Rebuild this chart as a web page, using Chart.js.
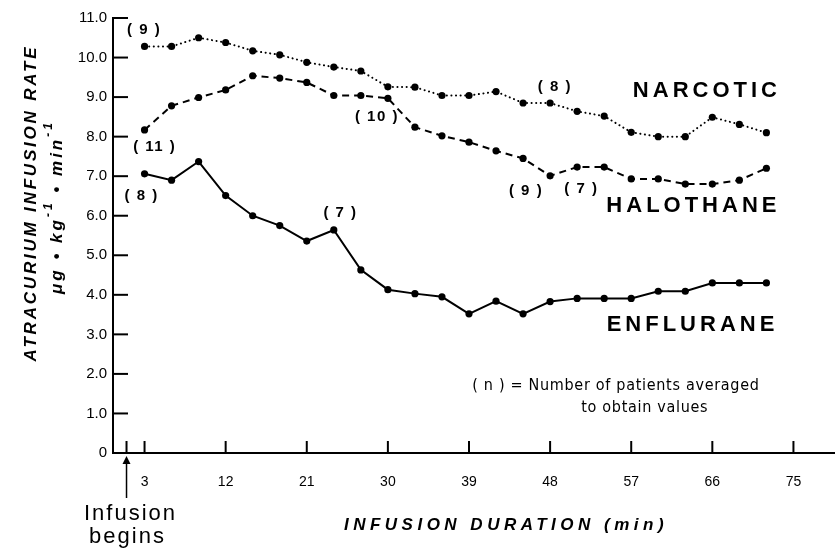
<!DOCTYPE html>
<html>
<head>
<meta charset="utf-8">
<script src="https://cdn.jsdelivr.net/npm/chart.js@4.4.1/dist/chart.umd.min.js"></script>
<style>
  html, body { margin: 0; padding: 0; background: #fff; }
  #wrap { width: 838px; height: 552px; position: relative; }
</style>
</head>
<body>
<div id="wrap"><canvas id="chart" width="838" height="552"></canvas></div>
<script>
// infusion time points (min)
const minutes = [3, 6, 9, 12, 15, 18, 21, 24, 27, 30, 33, 36, 39, 42, 45, 48, 51, 54, 57, 60, 63, 66, 69, 72];

const narcotic = [10.28, 10.28, 10.5, 10.38, 10.17, 10.07, 9.88, 9.76, 9.66, 9.26, 9.25, 9.04,
                  9.04, 9.14, 8.85, 8.85, 8.64, 8.52, 8.11, 8.0, 8.0, 8.49, 8.31, 8.1];
const halothane = [8.17, 8.78, 8.99, 9.18, 9.54, 9.48, 9.37, 9.04, 9.04, 8.97, 8.24, 8.02,
                   7.86, 7.64, 7.45, 7.01, 7.23, 7.23, 6.93, 6.93, 6.8, 6.8, 6.9, 7.2];
const enflurane = [7.06, 6.9, 7.37, 6.51, 6.0, 5.75, 5.36, 5.64, 4.63, 4.13, 4.03, 3.95,
                   3.52, 3.84, 3.52, 3.83, 3.91, 3.91, 3.91, 4.09, 4.09, 4.3, 4.3, 4.3];

const xTickLabels = [3, 12, 21, 30, 39, 48, 57, 66, 75];
const xTickMarks = [1, 3, 12, 21, 30, 39, 48, 57, 66, 75];
const yTickValues = [0, 1, 2, 3, 4, 5, 6, 7, 8, 9, 10, 11];
const infusionStart = 1;

// (n) annotations: [x, y, text]
const patientCounts = [
    [2.95, 10.69, '( 9 )'],
    [4.13, 7.74, '( 11 )'],
    [2.67, 6.51, '( 8 )'],
    [24.74, 6.08, '( 7 )'],
    [28.78, 8.5, '( 10 )'],
    [48.53, 9.27, '( 8 )'],
    [45.33, 6.64, '( 9 )'],
    [51.47, 6.68, '( 7 )']
];
const seriesNames = [
    [65.4, 9.16, 'NARCOTIC'],
    [63.9, 6.25, 'HALOTHANE'],
    [63.8, 3.24, 'ENFLURANE']
];
const noteLines = [
    [55.3, 1.70, '( n ) = Number of patients averaged'],
    [58.5, 1.15, 'to obtain values']
];

function toPoints(values) {
    return minutes.map((m, i) => ({ x: m, y: values[i] }));
}

function lineSet(label, values, dash, cap) {
    return {
        label: label,
        data: toPoints(values),
        borderColor: '#000',
        backgroundColor: '#000',
        borderWidth: 2,
        borderDash: dash,
        borderCapStyle: cap,
        pointRadius: 3.6,
        pointBorderWidth: 0,
        pointBackgroundColor: '#000',
        tension: 0
    };
}

const overlay = {
    id: 'overlay',
    afterDraw(chart) {
        const ctx = chart.ctx;
        const x = chart.scales.x;
        const y = chart.scales.y;
        const left = chart.chartArea.left;
        const bottom = chart.chartArea.bottom;
        ctx.save();
        ctx.strokeStyle = '#000';
        ctx.fillStyle = '#000';
        ctx.lineWidth = 2;

        // y ticks drawn inward
        yTickValues.slice(1).forEach(v => {
            const py = y.getPixelForValue(v);
            ctx.beginPath();
            ctx.moveTo(left, py);
            ctx.lineTo(left + 15, py);
            ctx.stroke();
        });
        // x ticks drawn upward
        xTickMarks.forEach(v => {
            const px = x.getPixelForValue(v);
            ctx.beginPath();
            ctx.moveTo(px, bottom);
            ctx.lineTo(px, bottom - 12);
            ctx.stroke();
        });

        // arrow at start of infusion
        const ax = x.getPixelForValue(infusionStart);
        ctx.lineWidth = 1.5;
        ctx.beginPath();
        ctx.moveTo(ax, bottom + 9);
        ctx.lineTo(ax, bottom + 45);
        ctx.stroke();
        ctx.beginPath();
        ctx.moveTo(ax, bottom + 3);
        ctx.lineTo(ax - 4, bottom + 11);
        ctx.lineTo(ax + 4, bottom + 11);
        ctx.closePath();
        ctx.fill();

        ctx.textAlign = 'center';
        ctx.textBaseline = 'middle';

        ctx.font = '22px "Liberation Sans", sans-serif';
        ctx.letterSpacing = '2px';
        ctx.fillText('Infusion', ax + 4, bottom + 61);
        ctx.fillText('begins', ax + 1, bottom + 84);

        ctx.font = 'bold 15px "Liberation Sans", sans-serif';
        ctx.letterSpacing = '1.5px';
        patientCounts.forEach(a => {
            ctx.fillText(a[2], x.getPixelForValue(a[0]), y.getPixelForValue(a[1]));
        });

        ctx.font = 'bold 22px "Liberation Sans", sans-serif';
        ctx.letterSpacing = '4px';
        seriesNames.forEach(a => {
            ctx.fillText(a[2], x.getPixelForValue(a[0]), y.getPixelForValue(a[1]));
        });

        ctx.font = '16px "Liberation Sans Narrow", "DejaVu Sans Condensed", sans-serif';
        ctx.letterSpacing = '0.7px';
        noteLines.forEach(a => {
            ctx.fillText(a[2], x.getPixelForValue(a[0]), y.getPixelForValue(a[1]));
        });

        // axis titles
        ctx.font = 'italic bold 17px "Liberation Sans", sans-serif';
        ctx.letterSpacing = '4.5px';
        ctx.fillText('INFUSION DURATION (min)', 506, 525);

        ctx.letterSpacing = '2.8px';
        ctx.save();
        ctx.translate(31, 203);
        ctx.rotate(-Math.PI / 2);
        ctx.fillText('ATRACURIUM INFUSION RATE', 0, 0);
        ctx.restore();

        // second line with superscripts
        ctx.save();
        ctx.translate(57, 207);
        ctx.rotate(-Math.PI / 2);
        const parts = [['\u03BCg \u2022 kg', false], ['-1', true], [' \u2022 min', false], ['-1', true]];
        const big = 'italic bold 17px "Liberation Sans", sans-serif';
        const small = 'italic bold 12px "Liberation Sans", sans-serif';
        ctx.letterSpacing = '3px';
        let total = 0;
        parts.forEach(p => { ctx.font = p[1] ? small : big; total += ctx.measureText(p[0]).width; });
        let cx = -total / 2;
        ctx.textAlign = 'left';
        parts.forEach(p => {
            ctx.font = p[1] ? small : big;
            ctx.fillText(p[0], cx, p[1] ? -8 : 0);
            cx += ctx.measureText(p[0]).width;
        });
        ctx.restore();

        ctx.restore();
    }
};

new Chart(document.getElementById('chart'), {
    type: 'line',
    data: {
        datasets: [
            lineSet('Narcotic', narcotic, [0.1, 4.5], 'round'),
            lineSet('Halothane', halothane, [7, 5], 'butt'),
            lineSet('Enflurane', enflurane, [], 'butt')
        ]
    },
    options: {
        responsive: false,
        animation: false,
        layout: { padding: { top: 18, right: 0, left: 0, bottom: 0 } },
        plugins: { legend: { display: false }, tooltip: { enabled: false } },
        scales: {
            x: {
                type: 'linear',
                min: -0.5,
                max: 79.5,
                afterBuildTicks: scale => { scale.ticks = xTickLabels.map(v => ({ value: v })); },
                afterFit: scale => { scale.height = 99; },
                grid: { drawOnChartArea: false, drawTicks: false },
                border: { display: true, color: '#000', width: 2 },
                ticks: {
                    color: '#000',
                    padding: 21,
                    maxRotation: 0,
                    autoSkip: false,
                    font: { family: 'Liberation Sans', size: 14 }
                }
            },
            y: {
                min: 0,
                max: 11,
                afterBuildTicks: scale => { scale.ticks = yTickValues.map(v => ({ value: v })); },
                afterFit: scale => { scale.width = 113; },
                grid: { drawOnChartArea: false, drawTicks: false },
                border: { display: true, color: '#000', width: 2 },
                ticks: {
                    color: '#000',
                    padding: 6,
                    callback: v => v === 0 ? '0' : v.toFixed(1),
                    font: { family: 'Liberation Sans', size: 15 }
                }
            }
        }
    },
    plugins: [overlay]
});
</script>
</body>
</html>
